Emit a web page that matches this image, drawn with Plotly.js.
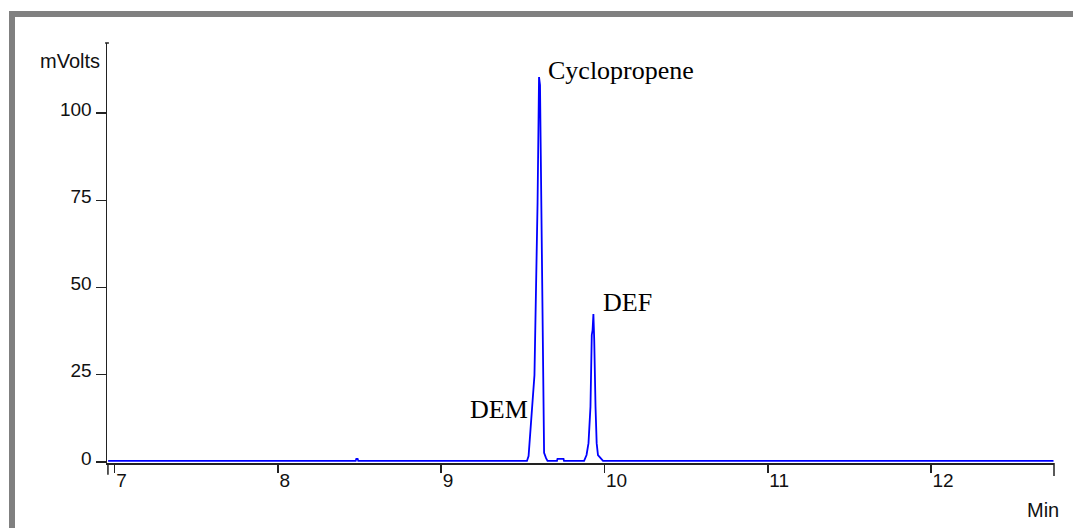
<!DOCTYPE html>
<html>
<head>
<meta charset="utf-8">
<script src="https://cdn.plot.ly/plotly-3.0.1.min.js"></script>
<style>
  html, body { margin: 0; padding: 0; background: #ffffff; }
  #wrap { position: relative; width: 1073px; height: 528px; overflow: hidden; }
  #chart { position: absolute; left: 0; top: 0; width: 1073px; height: 528px; }
  #frame { position: absolute; left: 9px; top: 11px; right: 0; bottom: 0;
           border-top: 6px solid #808080; border-left: 6px solid #808080;
           pointer-events: none; }
</style>
</head>
<body>
<div id="wrap">
  <div id="chart"></div>
  <div id="frame"></div>
</div>
<script>
// Retention time (min) and detector signal (mVolts)
const timeMin = [
  6.96, 8.476, 8.480, 8.488, 8.492,
  9.525, 9.535, 9.541, 9.553, 9.571, 9.590, 9.599, 9.605, 9.614, 9.617, 9.624, 9.630, 9.642, 9.651,
  9.709, 9.712, 9.749, 9.752,
  9.875, 9.890, 9.902, 9.914, 9.922, 9.927, 9.932, 9.937, 9.945, 9.952, 9.960, 9.979, 9.991,
  12.75
];
const signalMv = [
  0.3, 0.3, 0.9, 0.9, 0.3,
  0.3, 1.7, 5.2, 12.0, 24.9, 74.2, 110.3, 108.0, 63.3, 44.4, 12.0, 2.6, 1.1, 0.3,
  0.3, 0.9, 0.9, 0.3,
  0.3, 2.0, 5.4, 15.8, 36.4, 37.8, 42.4, 35.0, 15.8, 5.4, 2.0, 1.1, 0.3,
  0.3
];

// Peak labels
const peakNames = ["Cyclopropene", "DEM", "DEF"];
const peakLabelX = [9.646, 9.168, 9.983];
const peakLabelY = [112.3, 14.9, 45.6];

// Axis ticks
const xTicks = [7, 8, 9, 10, 11, 12];
const yTicks = [0, 25, 50, 75, 100];

const axisColor = '#222222';
const tickFont = { family: 'Liberation Sans, Arial, sans-serif', size: 19, color: '#111111' };

const annotations = peakNames.map((name, i) => ({
  x: peakLabelX[i], y: peakLabelY[i], xref: 'x', yref: 'y',
  text: name, showarrow: false, xanchor: 'left', yanchor: 'middle',
  borderpad: 0,
  font: { family: 'Liberation Serif, Times New Roman, serif', size: 26, color: '#000000' }
}));
annotations.push({
  x: -0.006, y: 0.957, xref: 'paper', yref: 'paper', text: 'mVolts',
  showarrow: false, xanchor: 'right', yanchor: 'middle', borderpad: 0,
  font: { family: 'Liberation Sans, Arial, sans-serif', size: 20, color: '#111111' }
});
annotations.push({
  x: 1.0066, y: -0.112, xref: 'paper', yref: 'paper', text: 'Min',
  showarrow: false, xanchor: 'right', yanchor: 'middle', borderpad: 0,
  font: { family: 'Liberation Sans, Arial, sans-serif', size: 20, color: '#111111' }
});

const trace = {
  x: timeMin, y: signalMv, type: 'scatter', mode: 'lines',
  line: { color: '#0000ff', width: 1.8 },
  hoverinfo: 'skip'
};

const layout = {
  width: 1073, height: 528,
  margin: { l: 107, r: 19, t: 43, b: 65, pad: 0 },
  paper_bgcolor: '#ffffff', plot_bgcolor: '#ffffff',
  showlegend: false,
  xaxis: {
    range: [6.953, 12.753], tickvals: xTicks, ticktext: xTicks.map(String),
    ticks: 'outside', ticklen: 8, tickwidth: 1.5, tickcolor: axisColor,
    showline: true, linecolor: axisColor, linewidth: 1.5,
    showgrid: false, zeroline: false,
    ticklabelposition: 'outside right',
    tickfont: tickFont
  },
  yaxis: {
    range: [-0.29, 120.06], tickvals: yTicks, ticktext: yTicks.map(String),
    ticks: 'outside', ticklen: 10, tickwidth: 1.5, tickcolor: axisColor,
    showline: true, linecolor: axisColor, linewidth: 1.5,
    showgrid: false, zeroline: false,
    ticklabelshift: -4,
    tickfont: tickFont
  },
  annotations: annotations,
  shapes: [
    { type: 'line', xref: 'paper', yref: 'paper', x0: 0.001, x1: 0.001, y0: 0, y1: -0.028,
      line: { color: axisColor, width: 1.5 } },
    { type: 'line', xref: 'paper', yref: 'paper', x0: 1, x1: 1, y0: 0, y1: -0.031,
      line: { color: axisColor, width: 1.5 } },
    { type: 'line', xref: 'paper', yref: 'paper', x0: -0.002, x1: 0.002, y0: 1, y1: 1,
      line: { color: axisColor, width: 1.5 } }
  ]
};

Plotly.newPlot('chart', [trace], layout, { displayModeBar: false, staticPlot: true });
</script>
</body>
</html>
